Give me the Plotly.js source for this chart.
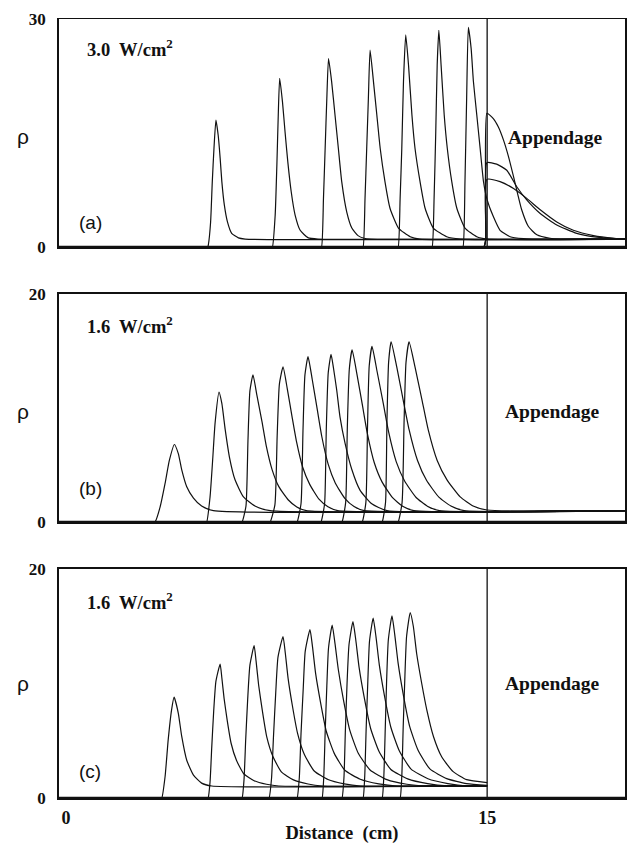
<!DOCTYPE html>
<html>
<head>
<meta charset="utf-8">
<script src="https://cdn.plot.ly/plotly-3.0.1.min.js"></script>
<style>html,body{margin:0;padding:0;background:#fff;}#chart{width:634px;height:844px;}</style>
</head>
<body>
<div id="chart"></div>
<script>
// ---------- Panel (a): 3.0 W/cm^2, distance (cm) vs rho ----------
const a1x = [-0.25, 5.00, 5.05, 5.07, 5.15, 5.21, 5.27, 5.34, 5.42, 5.49, 5.55, 5.64, 5.75, 5.90, 6.14, 6.38, 19.91];
const a1y = [0, 0, 0, 0.3, 3.3, 8.6, 13.0, 16.7, 14.7, 11.7, 8.6, 5.5, 3.3, 1.8, 1.2, 1.05, 1.05];
const a2x = [-0.25, 7.30, 7.35, 7.45, 7.51, 7.56, 7.61, 7.71, 7.80, 7.90, 8.02, 8.16, 8.34, 8.63, 8.99, 19.91];
const a2y = [0, 0, 0, 4.2, 10.8, 17.4, 22.2, 19.1, 15.2, 11.2, 7.3, 4.2, 2.2, 1.2, 1.05, 1.05];
const a3x = [-0.25, 9.05, 9.10, 9.17, 9.23, 9.29, 9.35, 9.46, 9.58, 9.70, 9.82, 10.00, 10.18, 10.40, 10.62, 10.85, 19.91];
const a3y = [0, 0, 0, 6.4, 13.0, 19.6, 24.8, 21.8, 17.4, 13.0, 8.6, 4.6, 2.5, 1.5, 1.15, 1.05, 1.05];
const a4x = [-0.25, 10.53, 10.58, 10.65, 10.71, 10.77, 10.83, 10.95, 11.07, 11.19, 11.36, 11.54, 11.84, 12.26, 12.60, 19.91];
const a4y = [0, 0, 0, 6.4, 13.0, 19.6, 25.9, 21.8, 17.4, 13.0, 8.6, 5.1, 2.5, 1.35, 1.05, 1.05];
const a5x = [-0.25, 11.78, 11.83, 11.90, 11.96, 12.02, 12.10, 12.20, 12.32, 12.43, 12.61, 12.79, 13.08, 13.56, 14.04, 19.91];
const a5y = [0, 0, 0, 6.4, 13.0, 21.8, 27.9, 23.9, 17.4, 13.0, 8.6, 5.1, 2.5, 1.35, 1.05, 1.05];
const a6x = [-0.25, 12.99, 13.04, 13.11, 13.17, 13.22, 13.28, 13.36, 13.47, 13.58, 13.74, 13.92, 14.21, 14.63, 15.00, 19.91];
const a6y = [0, 0, 0, 6.4, 15.2, 23.9, 28.5, 23.9, 17.4, 13.0, 8.6, 5.1, 2.5, 1.35, 1.05, 1.05];
const a7x = [-0.25, 14.09, 14.14, 14.21, 14.27, 14.33, 14.43, 14.51, 14.63, 14.75, 14.87, 15.00, 15.22, 15.46, 15.82, 16.29, 16.60, 19.91];
const a7y = [0, 0, 0, 8.6, 19.6, 28.9, 26.1, 21.8, 17.4, 13.0, 8.6, 6.2, 4.0, 2.2, 1.35, 1.1, 1.05, 1.05];
// profiles spreading inside the appendage
const aAx = [-0.25, 14.83, 14.88, 14.95, 14.99, 15.22, 15.40, 15.58, 15.76, 15.94, 16.08, 16.23, 16.47, 16.77, 17.24, 17.60, 19.91];
const aAy = [0, 0, 0, 1.0, 17.6, 16.9, 15.8, 14.1, 11.9, 9.25, 7.1, 4.9, 2.7, 1.6, 1.15, 1.05, 1.05];
const aBx = [-0.25, 14.83, 14.88, 14.95, 14.99, 15.34, 15.70, 16.06, 16.41, 16.89, 17.48, 18.19, 18.90, 19.62, 19.91];
const aBy = [0, 0, 0, 1.0, 11.1, 10.9, 10.1, 7.9, 6.2, 4.4, 2.9, 1.8, 1.3, 1.1, 1.05];
const aCx = [-0.25, 14.83, 14.88, 14.95, 14.99, 15.46, 15.94, 16.41, 16.89, 17.48, 18.07, 18.79, 19.50, 19.91];
const aCy = [0, 0, 0, 1.0, 8.9, 8.6, 7.7, 6.4, 4.9, 3.3, 2.2, 1.5, 1.15, 1.05];

// ---------- Panel (b): 1.6 W/cm^2 ----------
const b1x = [-0.25, 3.10, 3.17, 3.35, 3.53, 3.68, 3.86, 4.00, 4.12, 4.30, 4.54, 4.83, 5.25, 19.91];
const b1y = [0, 0, 0, 1.3, 3.4, 5.4, 6.8, 6.0, 4.6, 3.1, 2.1, 1.4, 1.0, 1.0];
const b2x = [-0.25, 4.96, 5.01, 5.13, 5.23, 5.31, 5.45, 5.55, 5.67, 5.82, 6.02, 6.32, 6.73, 7.27, 19.91];
const b2y = [0, 0, 0, 2.2, 5.7, 8.7, 11.4, 10.4, 8.1, 5.7, 3.7, 2.2, 1.4, 1.0, 1.0];
const b3x = [-0.25, 6.22, 6.27, 6.41, 6.48, 6.55, 6.66, 6.80, 6.98, 7.13, 7.34, 7.58, 7.91, 8.22, 8.56, 19.91];
const b3y = [0, 0, 0, 1.4, 7.1, 11.5, 12.9, 11.1, 8.8, 6.7, 4.6, 3.1, 1.95, 1.32, 1.0, 1.0];
const b4x = [-0.25, 7.22, 7.27, 7.44, 7.52, 7.60, 7.73, 7.88, 8.05, 8.21, 8.43, 8.68, 9.01, 9.33, 9.68, 19.91];
const b4y = [0, 0, 0, 1.5, 7.5, 12.1, 13.6, 11.7, 9.25, 7.05, 4.8, 3.3, 2.0, 1.34, 1.0, 1.0];
const b5x = [-0.25, 8.18, 8.23, 8.37, 8.44, 8.51, 8.62, 8.77, 8.95, 9.11, 9.34, 9.59, 9.93, 10.26, 10.62, 19.91];
const b5y = [0, 0, 0, 1.6, 8.0, 12.9, 14.5, 12.5, 9.85, 7.5, 5.05, 3.43, 2.08, 1.36, 1.0, 1.0];
const b6x = [-0.25, 9.03, 9.08, 9.21, 9.27, 9.34, 9.44, 9.52, 9.64, 9.76, 9.94, 10.18, 10.47, 10.89, 11.43, 19.91];
const b6y = [0, 0, 0, 1.6, 8.1, 13.1, 14.7, 13.6, 11.6, 9.2, 6.9, 4.6, 2.8, 1.6, 1.0, 1.0];
const b7x = [-0.25, 9.78, 9.83, 9.96, 10.02, 10.09, 10.19, 10.36, 10.56, 10.73, 10.98, 11.26, 11.63, 11.99, 12.39, 19.91];
const b7y = [0, 0, 0, 1.7, 8.3, 13.4, 15.1, 13.0, 10.2, 7.8, 5.2, 3.5, 2.13, 1.38, 1.0, 1.0];
const b8x = [-0.25, 10.50, 10.55, 10.68, 10.74, 10.80, 10.90, 11.08, 11.30, 11.49, 11.76, 12.06, 12.47, 12.87, 13.30, 19.91];
const b8y = [0, 0, 0, 1.7, 8.5, 13.7, 15.4, 13.2, 10.4, 7.9, 5.3, 3.6, 2.15, 1.39, 1.0, 1.0];
const b9x = [-0.25, 11.21, 11.26, 11.38, 11.43, 11.49, 11.58, 11.78, 12.01, 12.22, 12.52, 12.84, 13.28, 13.71, 14.18, 19.91];
const b9y = [0, 0, 0, 1.7, 8.7, 14.0, 15.8, 13.6, 10.7, 8.1, 5.4, 3.66, 2.18, 1.4, 1.0, 1.0];
const b10x = [-0.25, 11.78, 11.83, 11.97, 12.04, 12.11, 12.22, 12.43, 12.68, 12.90, 13.22, 13.57, 14.04, 14.50, 15.00, 19.91];
const b10y = [0, 0, 0, 1.7, 8.7, 14.0, 15.8, 13.6, 10.7, 8.1, 5.4, 3.7, 2.2, 1.4, 1.05, 1.0];

// ---------- Panel (c): 1.6 W/cm^2 ----------
const c1x = [-0.25, 3.36, 3.41, 3.53, 3.64, 3.76, 3.85, 4.00, 4.12, 4.30, 4.54, 4.83, 5.19, 15.0];
const c1y = [0, 0, 0, 1.9, 5.1, 7.7, 8.8, 7.4, 5.4, 3.3, 2.0, 1.3, 1.05, 1.05];
const c2x = [-0.25, 5.01, 5.06, 5.13, 5.19, 5.26, 5.34, 5.49, 5.55, 5.63, 5.74, 5.88, 6.07, 6.33, 6.70, 7.14, 7.58, 15.0];
const c2y = [0, 0, 0, 1.4, 4.4, 7.6, 10.2, 11.7, 10.5, 8.7, 6.8, 4.78, 3.29, 2.12, 1.51, 1.20, 1.05, 1.05];
const c3x = [-0.25, 6.22, 6.27, 6.34, 6.40, 6.47, 6.55, 6.70, 6.77, 6.86, 6.99, 7.15, 7.37, 7.67, 8.10, 8.62, 9.13, 15.0];
const c3y = [0, 0, 0, 1.6, 5.1, 8.6, 11.6, 13.3, 11.95, 9.87, 7.67, 5.34, 3.62, 2.28, 1.58, 1.22, 1.05, 1.05];
const c4x = [-0.25, 7.18, 7.23, 7.32, 7.39, 7.47, 7.55, 7.73, 7.81, 7.91, 8.06, 8.25, 8.49, 8.84, 9.33, 9.91, 10.49, 15.0];
const c4y = [0, 0, 0, 1.7, 5.4, 9.2, 12.3, 14.1, 12.66, 10.45, 8.10, 5.62, 3.79, 2.36, 1.61, 1.23, 1.05, 1.05];
const c5x = [-0.25, 8.18, 8.23, 8.31, 8.37, 8.45, 8.52, 8.69, 8.78, 8.89, 9.06, 9.27, 9.55, 9.93, 10.48, 11.14, 11.79, 15.0];
const c5y = [0, 0, 0, 1.8, 5.6, 9.6, 12.8, 14.7, 13.2, 10.88, 8.42, 5.83, 3.92, 2.42, 1.64, 1.24, 1.05, 1.05];
const c6x = [-0.25, 9.07, 9.12, 9.18, 9.23, 9.29, 9.35, 9.48, 9.58, 9.70, 9.88, 10.11, 10.41, 10.83, 11.43, 12.14, 12.85, 15.0];
const c6y = [0, 0, 0, 1.8, 5.7, 9.8, 13.1, 15.1, 13.5, 11.2, 8.6, 5.9, 3.9, 2.45, 1.6, 1.2, 1.05, 1.05];
const c7x = [-0.25, 9.78, 9.83, 9.90, 9.95, 10.01, 10.08, 10.22, 10.32, 10.44, 10.62, 10.85, 11.15, 11.57, 12.17, 12.88, 13.59, 15.0];
const c7y = [0, 0, 0, 1.8, 5.9, 10.0, 13.4, 15.4, 13.82, 11.38, 8.80, 6.07, 4.06, 2.49, 1.67, 1.25, 1.05, 1.05];
const c8x = [-0.25, 10.53, 10.58, 10.64, 10.69, 10.75, 10.81, 10.94, 11.04, 11.16, 11.34, 11.57, 11.87, 12.29, 12.89, 13.60, 14.31, 15.0];
const c8y = [0, 0, 0, 1.9, 6.0, 10.2, 13.7, 15.7, 14.09, 11.6, 8.96, 6.18, 4.13, 2.52, 1.68, 1.26, 1.05, 1.05];
const c9x = [-0.25, 11.21, 11.26, 11.32, 11.37, 11.42, 11.48, 11.61, 11.71, 11.83, 12.01, 12.24, 12.54, 12.96, 13.56, 14.27, 15.0];
const c9y = [0, 0, 0, 1.9, 6.0, 10.3, 13.8, 15.9, 14.25, 11.75, 9.07, 6.25, 4.17, 2.54, 1.69, 1.26, 1.1];
const c10x = [-0.25, 11.85, 11.90, 11.96, 12.01, 12.07, 12.13, 12.26, 12.37, 12.49, 12.67, 12.85, 13.09, 13.38, 13.79, 14.27, 15.0];
const c10y = [0, 0, 0, 1.9, 6.2, 10.6, 14.1, 16.2, 15.0, 12.6, 10.0, 7.7, 5.35, 3.6, 2.3, 1.6, 1.35];

// tick labels / texts
const xTickVals = [0, 15];
const xTickText = ['0', '15'];
const yTicksA = [0, 30];
const yTicksBC = [0, 20];
const panelLabels = ['(a)', '(b)', '(c)'];
const intensityLabels = ['3.0&nbsp; W/cm<sup>2</sup>', '1.6&nbsp; W/cm<sup>2</sup>', '1.6&nbsp; W/cm<sup>2</sup>'];
const appendageLabel = 'Appendage';
const channelEnd = 15;

const panelA = [[a1x,a1y],[a2x,a2y],[a3x,a3y],[a4x,a4y],[a5x,a5y],[a6x,a6y],[a7x,a7y],[aAx,aAy],[aBx,aBy],[aCx,aCy]];
const panelB = [[b1x,b1y],[b2x,b2y],[b3x,b3y],[b4x,b4y],[b5x,b5y],[b6x,b6y],[b7x,b7y],[b8x,b8y],[b9x,b9y],[b10x,b10y]];
const panelC = [[c1x,c1y],[c2x,c2y],[c3x,c3y],[c4x,c4y],[c5x,c5y],[c6x,c6y],[c7x,c7y],[c8x,c8y],[c9x,c9y],[c10x,c10y]];

const lineStyle = {color: '#111', width: 1.2, shape: 'spline', smoothing: 0.5};
const traces = [];
function add(list, xa, ya) {
  list.forEach(p => traces.push({x: p[0], y: p[1], type: 'scatter', mode: 'lines',
    xaxis: xa, yaxis: ya, line: lineStyle, hoverinfo: 'skip', showlegend: false}));
}
add(panelA, 'x3', 'y3');
add(panelB, 'x2', 'y2');
add(panelC, 'x', 'y');

const serif = 'Liberation Serif, Times New Roman, serif';
const sans = 'Liberation Sans, Arial, sans-serif';
const XR = [-0.25, 19.91];

const baseX = {range: XR, showline: true, mirror: true, linecolor: '#111', linewidth: 1.5,
  showgrid: false, zeroline: false, ticks: '', fixedrange: true};
const baseY = {showline: true, mirror: true, linecolor: '#111', linewidth: 1.8,
  showgrid: false, zeroline: false, ticks: '', ticklabelstandoff: 8,
  tickfont: {family: serif, size: 17, color: '#111', weight: 'bold'}};

// paper helpers (plot area 59..625 px horizontally, 19..798 px vertically)
const PX = px => (px - 59) / 566;
const PY = py => (798 - py) / 779;

const ann = [];
const titleY = [48, 325, 601];
const labY = [222, 488, 771];
const rhoY = [136, 411, 683];
const appY = [138, 411, 683];
const appX = [555, 552, 552];
for (let i = 0; i < 3; i++) {
  ann.push({xref: 'paper', yref: 'paper', x: PX(85), y: PY(titleY[i]), xanchor: 'left', yanchor: 'middle',
    text: '<b>' + intensityLabels[i] + '</b>', showarrow: false,
    font: {family: serif, size: 18.5, color: '#111'}});
  ann.push({xref: 'paper', yref: 'paper', x: PX(77), y: PY(labY[i]), xanchor: 'left', yanchor: 'middle',
    text: panelLabels[i], showarrow: false, font: {family: sans, size: 19, color: '#111'}});
  ann.push({xref: 'paper', yref: 'paper', x: PX(23), y: PY(rhoY[i]), xanchor: 'center', yanchor: 'middle',
    text: 'ρ', showarrow: false, font: {family: sans, size: 21, color: '#111'}});
  ann.push({xref: 'paper', yref: 'paper', x: PX(appX[i]), y: PY(appY[i]), xanchor: 'center', yanchor: 'middle',
    text: '<b>' + appendageLabel + '</b>', showarrow: false, font: {family: serif, size: 19.5, color: '#111'}});
}

const shapes = [
  {type: 'line', xref: 'x3', yref: 'y3', x0: channelEnd, x1: channelEnd, y0: 0, y1: 30, line: {color: '#111', width: 1.3}},
  {type: 'line', xref: 'x2', yref: 'y2', x0: channelEnd, x1: channelEnd, y0: 0, y1: 20, line: {color: '#111', width: 1.3}},
  {type: 'line', xref: 'x', yref: 'y', x0: channelEnd, x1: channelEnd, y0: 0, y1: 20, line: {color: '#111', width: 1.3}},
  // thicker bottom frame edges, as in the scan
  {type: 'line', xref: 'x3 domain', yref: 'y3 domain', x0: 0, x1: 1, y0: 0, y1: 0, line: {color: '#111', width: 2.6}},
  {type: 'line', xref: 'x2 domain', yref: 'y2 domain', x0: 0, x1: 1, y0: 0, y1: 0, line: {color: '#111', width: 2.6}},
  {type: 'line', xref: 'x domain', yref: 'y domain', x0: 0, x1: 1, y0: 0, y1: 0, line: {color: '#111', width: 2.4}}
];

const layout = {
  width: 634, height: 844,
  margin: {l: 59, r: 9, t: 19, b: 46, pad: 0},
  paper_bgcolor: '#fff', plot_bgcolor: '#fff',
  showlegend: false,
  xaxis: Object.assign({}, baseX, {anchor: 'y', tickvals: xTickVals, ticktext: xTickText,
    ticklabelstandoff: 3,
    tickfont: {family: serif, size: 18, color: '#111', weight: 'bold'},
    title: {text: '<b>Distance&nbsp; (cm)</b>', standoff: 2, font: {family: serif, size: 18.5, color: '#111'}}}),
  xaxis2: Object.assign({}, baseX, {anchor: 'y2', showticklabels: false}),
  xaxis3: Object.assign({}, baseX, {anchor: 'y3', showticklabels: false}),
  yaxis: Object.assign({}, baseY, {domain: [0, 0.2940], range: [0, 20], tickvals: yTicksBC, ticktext: ['0', '20'], anchor: 'x'}),
  yaxis2: Object.assign({}, baseY, {domain: [0.3543, 0.6470], range: [0, 20], tickvals: yTicksBC, ticktext: ['0', '20'], anchor: 'x2'}),
  yaxis3: Object.assign({}, baseY, {domain: [0.7073, 1], range: [0, 30], tickvals: yTicksA, ticktext: ['0', '30'], anchor: 'x3'}),
  annotations: ann,
  shapes: shapes
};

Plotly.newPlot('chart', traces, layout, {displayModeBar: false, staticPlot: true});
</script>
</body>
</html>
